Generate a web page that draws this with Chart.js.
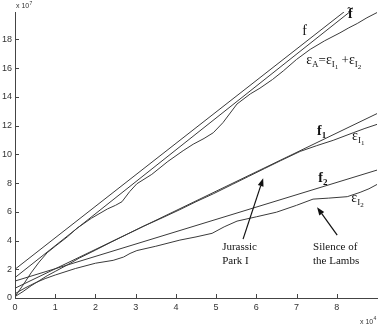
<!DOCTYPE html>
<html><head><meta charset="utf-8">
<script src="https://cdn.jsdelivr.net/npm/chart.js@4.4.1/dist/chart.umd.min.js"></script>
<style>html,body{margin:0;padding:0;background:#fff;}canvas{display:block;}</style>
</head><body>
<canvas id="c" width="378" height="330"></canvas>
<script>
// ---- data (x in units of 1e4, y in units of 1e7) ----
const xTicks = [0,1,2,3,4,5,6,7,8];
const yTicks = [0,2,4,6,8,10,12,14,16,18];
const fLine      = [[0,2.0],[8.2,19.95]];
const fTildeLine = [[0,1.42],[8.32,19.9]];
const f1Line     = [[0,0.68],[9,12.83]];
const f2Line     = [[0,1.18],[9,8.9]];
const epsA  = [[0,0.1],[0.2,0.9],[0.4,1.75],[0.6,2.5],[0.8,3.15],[1.0,3.6],[1.3,4.25],[1.54,4.85],[1.9,5.55],[2.3,6.2],[2.5,6.45],[2.66,6.7],[2.85,7.4],[3.03,7.95],[3.4,8.6],[3.8,9.5],[4.18,10.25],[4.43,10.7],[4.7,11.1],[4.93,11.5],[5.17,12.2],[5.52,13.5],[5.85,14.2],[6.09,14.6],[6.4,15.2],[6.67,15.8],[7.0,16.6],[7.34,17.3],[7.7,17.9],[8.08,18.45],[8.3,18.8],[8.51,19.1],[8.75,19.5],[9.0,19.86]];
const epsI1 = [[0,0.1],[0.2,0.45],[0.4,0.85],[0.6,1.2],[0.8,1.55],[1.0,1.85],[1.3,2.3],[1.6,2.78],[2.0,3.33],[2.4,3.9],[2.8,4.45],[3.2,5.0],[3.6,5.5],[4.1,6.15],[4.5,6.7],[4.93,7.25],[5.4,7.9],[5.8,8.45],[6.2,9.0],[6.6,9.55],[7.09,10.2],[7.5,10.6],[7.91,10.97],[8.41,11.5],[8.7,11.8],[9.0,12.08]];
const epsI2 = [[0,0.3],[0.25,0.7],[0.5,1.05],[0.75,1.35],[1.0,1.6],[1.5,2.05],[2.0,2.42],[2.44,2.62],[2.7,2.85],[2.86,3.1],[3.03,3.3],[3.5,3.6],[4.1,4.03],[4.5,4.25],[4.9,4.5],[5.2,4.95],[5.52,5.35],[6.0,5.65],[6.5,5.97],[7.0,6.45],[7.41,6.88],[7.8,6.95],[8.26,7.05],[8.58,7.35],[8.8,7.6],[9.0,7.9]];

const toXY = a => a.map(p => ({x:p[0], y:p[1]}));
const LINE = '#3a3a3a';
const ds = (d) => ({data: toXY(d), borderColor: LINE, borderWidth: 1, pointRadius: 0, tension: 0, fill: false});

// annotation positions in data coords
const SERIF = '"Liberation Serif", "Times New Roman", serif';
const labels = [
  {x:7.14, y:18.3, runs:[['f',14,0,false]]},
  {x:8.28, y:19.45, runs:[['f',14,0,true]], tilde:true},
  {x:7.24, y:16.28, runs:[['\u03b5',14,0],['A',9,3],['=',13,0],['\u03b5',14,0],['I',9,3],['1',7,5],[' +',13,0],['\u03b5',14,0],['I',9,3],['2',7,5]]},
  {x:7.51, y:11.34, runs:[['f',14,0,true],['1',9,3,true]]},
  {x:8.38, y:11.0, runs:[['\u03b5',14,0],['I',9,3],['1',7,5]]},
  {x:7.54, y:8.07, runs:[['f',14,0,true],['2',9,3,true]]},
  {x:8.36, y:6.68, runs:[['\u03b5',14,0],['I',9,3],['2',7,5]]},
  {x:5.15, y:3.34, runs:[['Jurassic',11,0]]},
  {x:5.15, y:2.37, runs:[['Park I',11,0]]},
  {x:7.41, y:3.34, runs:[['Silence of',11,0]]},
  {x:7.41, y:2.37, runs:[['the Lambs',11,0]]},
];
const arrows = [
  {from:[5.67,4.1], to:[6.17,8.33]},
  {from:[8.01,4.375], to:[7.51,6.32]},
];

const overlay = {
  id:'overlay',
  afterDraw(chart){
    const ctx = chart.ctx, xs = chart.scales.x, ys = chart.scales.y;
    ctx.save();
    // inward ticks
    ctx.strokeStyle = '#444'; ctx.lineWidth = 1;
    const b = ys.getPixelForValue(0), l = xs.getPixelForValue(0);
    ctx.beginPath();
    xTicks.forEach(v => { const px = Math.round(xs.getPixelForValue(v)) + 0.5; ctx.moveTo(px, b); ctx.lineTo(px, b-4); });
    yTicks.forEach(v => { const py = Math.round(ys.getPixelForValue(v)) + 0.5; ctx.moveTo(l, py); ctx.lineTo(l+4, py); });
    ctx.stroke();
    // exponent labels
    ctx.fillStyle = '#333';
    ctx.textBaseline = 'alphabetic'; ctx.textAlign = 'left';
    ctx.font = '7px "Liberation Sans", Arial, sans-serif';
    ctx.fillText('x 10', 16, 8);
    ctx.font = '5px "Liberation Sans", Arial, sans-serif';
    ctx.fillText('7', 29.5, 5);
    ctx.font = '7px "Liberation Sans", Arial, sans-serif';
    ctx.fillText('x 10', 360, 324);
    ctx.font = '5px "Liberation Sans", Arial, sans-serif';
    ctx.fillText('4', 373.5, 320);
    // text labels
    ctx.fillStyle = '#111';
    labels.forEach(lb => {
      let cx = xs.getPixelForValue(lb.x);
      const cy = ys.getPixelForValue(lb.y);
      const x0 = cx;
      lb.runs.forEach(r => {
        ctx.font = (r[3] ? 'bold ' : '') + r[1] + 'px ' + SERIF;
        ctx.fillText(r[0], cx, cy + r[2]);
        cx += ctx.measureText(r[0]).width;
      });
      if (lb.tilde) {
        ctx.font = 'bold 10px ' + SERIF;
        ctx.fillText('~', x0 - 0.5, cy - 7);
      }
    });
    // arrows
    ctx.strokeStyle = '#111'; ctx.fillStyle = '#111'; ctx.lineWidth = 1.2;
    arrows.forEach(a => {
      const x1 = xs.getPixelForValue(a.from[0]), y1 = ys.getPixelForValue(a.from[1]);
      const x2 = xs.getPixelForValue(a.to[0]), y2 = ys.getPixelForValue(a.to[1]);
      const ang = Math.atan2(y2-y1, x2-x1), L = 8, W = 3;
      const bx = x2 - L*Math.cos(ang), by = y2 - L*Math.sin(ang);
      ctx.beginPath(); ctx.moveTo(x1,y1); ctx.lineTo(bx,by); ctx.stroke();
      ctx.beginPath();
      ctx.moveTo(x2,y2);
      ctx.lineTo(bx + W*Math.sin(ang), by - W*Math.cos(ang));
      ctx.lineTo(bx - W*Math.sin(ang), by + W*Math.cos(ang));
      ctx.closePath(); ctx.fill();
    });
    ctx.restore();
  }
};

const tickFont = {family:'"Liberation Sans", Arial, sans-serif', size:9};
new Chart(document.getElementById('c'), {
  type:'line',
  data:{datasets:[ds(fLine), ds(fTildeLine), ds(epsA), ds(f1Line), ds(epsI1), ds(f2Line), ds(epsI2)]},
  options:{
    responsive:false, animation:false, devicePixelRatio:1,
    layout:{padding:{top:12, right:1, left:0, bottom:0}},
    plugins:{legend:{display:false}, tooltip:{enabled:false}},
    scales:{
      x:{type:'linear', min:0, max:9,
         afterBuildTicks(s){ s.ticks = xTicks.map(v => ({value:v})); },
         afterFit(s){ s.height = 32; },
         grid:{display:true, drawOnChartArea:false, drawTicks:false},
         border:{display:true, color:'#444', width:1},
         ticks:{font:tickFont, color:'#333', padding:4, maxRotation:0, autoSkip:false}},
      y:{type:'linear', min:0, max:19.9,
         afterBuildTicks(s){ s.ticks = yTicks.map(v => ({value:v})); },
         afterFit(s){ s.width = 15; },
         grid:{display:true, drawOnChartArea:false, drawTicks:false},
         border:{display:true, color:'#444', width:1},
         ticks:{font:tickFont, color:'#333', padding:3, autoSkip:false}}
    }
  },
  plugins:[overlay]
});
</script>
</body></html>
